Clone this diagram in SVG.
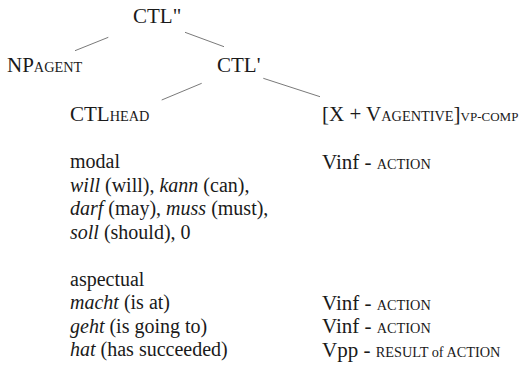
<svg xmlns="http://www.w3.org/2000/svg" width="523" height="367" viewBox="0 0 523 367">
  <style>
    text { font-family: "Liberation Serif", "Times New Roman", serif; font-size: 21px; fill: #1a1a1a; }
    .sc { font-size: 14.3px; }
    .sc-tight { font-size: 13px; }
    .body { font-size: 20px; }
    .it { font-style: italic; }
    .edge { stroke: #7a7a7a; stroke-width: 1; fill: none; }
  </style>
  <rect width="523" height="367" fill="#ffffff"/>

  <!-- tree branches -->
  <g id="connectors">
    <line class="edge" x1="75" y1="50.7" x2="108.3" y2="37.3"/>
    <line class="edge" x1="185" y1="32.3" x2="224" y2="46.7"/>
    <line class="edge" x1="161.7" y1="100" x2="201.7" y2="83.3"/>
    <line class="edge" x1="263.3" y1="78.3" x2="320" y2="96.7"/>
  </g>

  <g id="ctl-double-bar">
    <text x="133" y="22.5">CTL"</text>
  </g>
  <g id="np-agent">
    <text x="7" y="72">NP<tspan class="sc">AGENT</tspan></text>
  </g>
  <g id="ctl-bar">
    <text x="217" y="72">CTL'</text>
  </g>
  <g id="ctl-head">
    <text x="70" y="121">CTL<tspan class="sc">HEAD</tspan></text>
  </g>
  <g id="vp-comp">
    <text x="322" y="121">[X + V<tspan class="sc">AGENTIVE</tspan>]<tspan class="sc-tight">VP-COMP</tspan></text>
  </g>

  <!-- head inventory, left column -->
  <g id="head-list">
    <text class="body" x="70" y="168">modal</text>
    <text class="body" x="70" y="191.5"><tspan class="it">will</tspan> (will), <tspan class="it">kann</tspan> (can),</text>
    <text class="body" x="70" y="215"><tspan class="it">darf</tspan> (may), <tspan class="it">muss</tspan> (must),</text>
    <text class="body" x="70" y="238.5"><tspan class="it">soll</tspan> (should), 0</text>
    <text class="body" x="70" y="285.5">aspectual</text>
    <text class="body" x="70" y="309"><tspan class="it">macht</tspan> (is at)</text>
    <text class="body" x="70" y="332.5"><tspan class="it">geht</tspan> (is going to)</text>
    <text class="body" x="70" y="356"><tspan class="it">hat</tspan> (has succeeded)</text>
  </g>

  <!-- complement forms, right column -->
  <g id="comp-list">
    <text x="322" y="168.5">Vinf - <tspan class="sc">ACTION</tspan></text>
    <text x="322" y="309.5">Vinf - <tspan class="sc">ACTION</tspan></text>
    <text x="322" y="333">Vinf - <tspan class="sc">ACTION</tspan></text>
    <text x="322" y="356.5">Vpp - <tspan class="sc">RESULT of ACTION</tspan></text>
  </g>
</svg>
